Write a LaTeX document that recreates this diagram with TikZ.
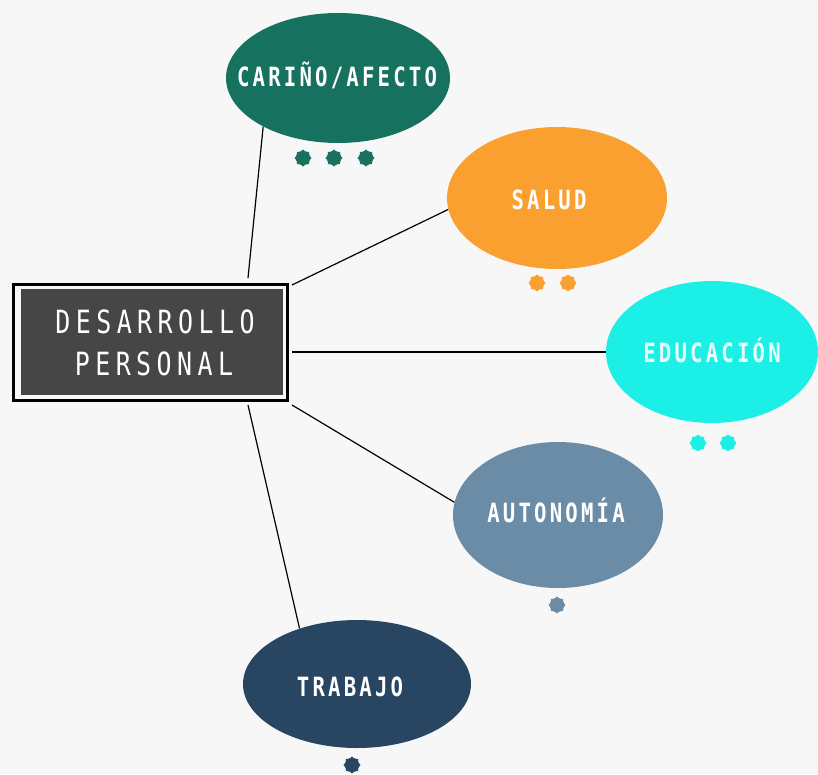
\documentclass[tikz,border=0pt]{standalone}
\usepackage{fontspec}
\usetikzlibrary{shapes.geometric}
\newfontfamily\corefont[FakeStretch=0.78,LetterSpace=17]{DejaVu Sans Mono}
\newfontfamily\bubblefont[FakeStretch=0.78,LetterSpace=12]{DejaVu Sans Mono Bold}
\definecolor{bgcol}{HTML}{F7F7F7}
\definecolor{corecol}{HTML}{464646}
\definecolor{carinocol}{HTML}{17715F}
\definecolor{saludcol}{HTML}{F9A030}
\definecolor{educol}{HTML}{1CF0E6}
\definecolor{autocol}{HTML}{6A8CA6}
\definecolor{trabcol}{HTML}{284561}
\tikzset{
  bubble/.style={ellipse,inner sep=0pt},
  bubbletext/.style={anchor=base,inner sep=0pt,text=white,font=\bubblefont\fontsize{26.5}{30}\selectfont},
  coretext/.style={anchor=base,inner sep=0pt,text=white,font=\corefont\fontsize{32}{36}\selectfont},
  flower/.style={star,star points=8,star point ratio=1.6,minimum size=19pt,inner sep=0pt,rounded corners=2pt},
  link/.style={line width=1.2pt,black}
}
\begin{document}
\begin{tikzpicture}[x=1pt,y=-1pt]
      \fill[bgcol,use as bounding box] (0,0) rectangle (818,774);
      \node[fill=corecol,minimum width=262pt,minimum height=106pt,inner sep=0pt] (core) at (152,342) {};
      \draw[line width=3pt] ([shift={(-7.5,-4.5)}]core.north west) rectangle ([shift={(4.5,5.5)}]core.south east);
      \node[coretext] (desarrollo) at (155,333) {DESARROLLO};
      \node[coretext] (personal) at (154,375) {PERSONAL};
      \node[bubble,fill=carinocol,minimum width=224pt,minimum height=130pt] (carino) at (338,78) {};
      \node[bubble,fill=saludcol,minimum width=220pt,minimum height=142pt] (salud) at (557,198) {};
      \node[bubble,fill=educol,minimum width=212pt,minimum height=142pt] (educ) at (712,352) {};
      \node[bubble,fill=autocol,minimum width=210pt,minimum height=146pt] (auto) at (558,515) {};
      \node[bubble,fill=trabcol,minimum width=228pt,minimum height=128pt] (trab) at (357,684) {};
      \node[bubbletext] (carinotext) at (337,86) {CARIÑO/AFECTO};
      \node[bubbletext] (saludtext) at (549,209) {SALUD};
      \node[bubbletext,text=white!90!educol] (eductext) at (712,362) {EDUCACIÓN};
      \node[bubbletext] (autotext) at (556,522) {AUTONOMÍA};
      \node[bubbletext] (trabtext) at (350,696) {TRABAJO};
      \coordinate (p1) at (248,278);
      \coordinate (p2) at (292,285);
      \coordinate (p3) at (292,352);
      \coordinate (p4) at (292,405);
      \coordinate (p5) at (248,405);
      \draw[link] (p1) -- (carino.213);
      \draw[link] (p2) -- (salud.186);
      \draw[link] (p3) -- (educ.west);
      \draw[link] (p4) -- (auto.173);
      \draw[link] (p5) -- (trab.136);
      \node[flower,fill=carinocol] (s1) at (303,158) {};
      \node[flower,fill=carinocol] (s2) at (334,158) {};
      \node[flower,fill=carinocol] (s3) at (366,158) {};
      \node[flower,fill=saludcol] (s4) at (537,283) {};
      \node[flower,fill=saludcol] (s5) at (568,283) {};
      \node[flower,fill=educol] (s6) at (698,443) {};
      \node[flower,fill=educol] (s7) at (728,443) {};
      \node[flower,fill=autocol] (s8) at (557,605) {};
      \node[flower,fill=trabcol] (s9) at (352,765) {};
\end{tikzpicture}
\end{document}
